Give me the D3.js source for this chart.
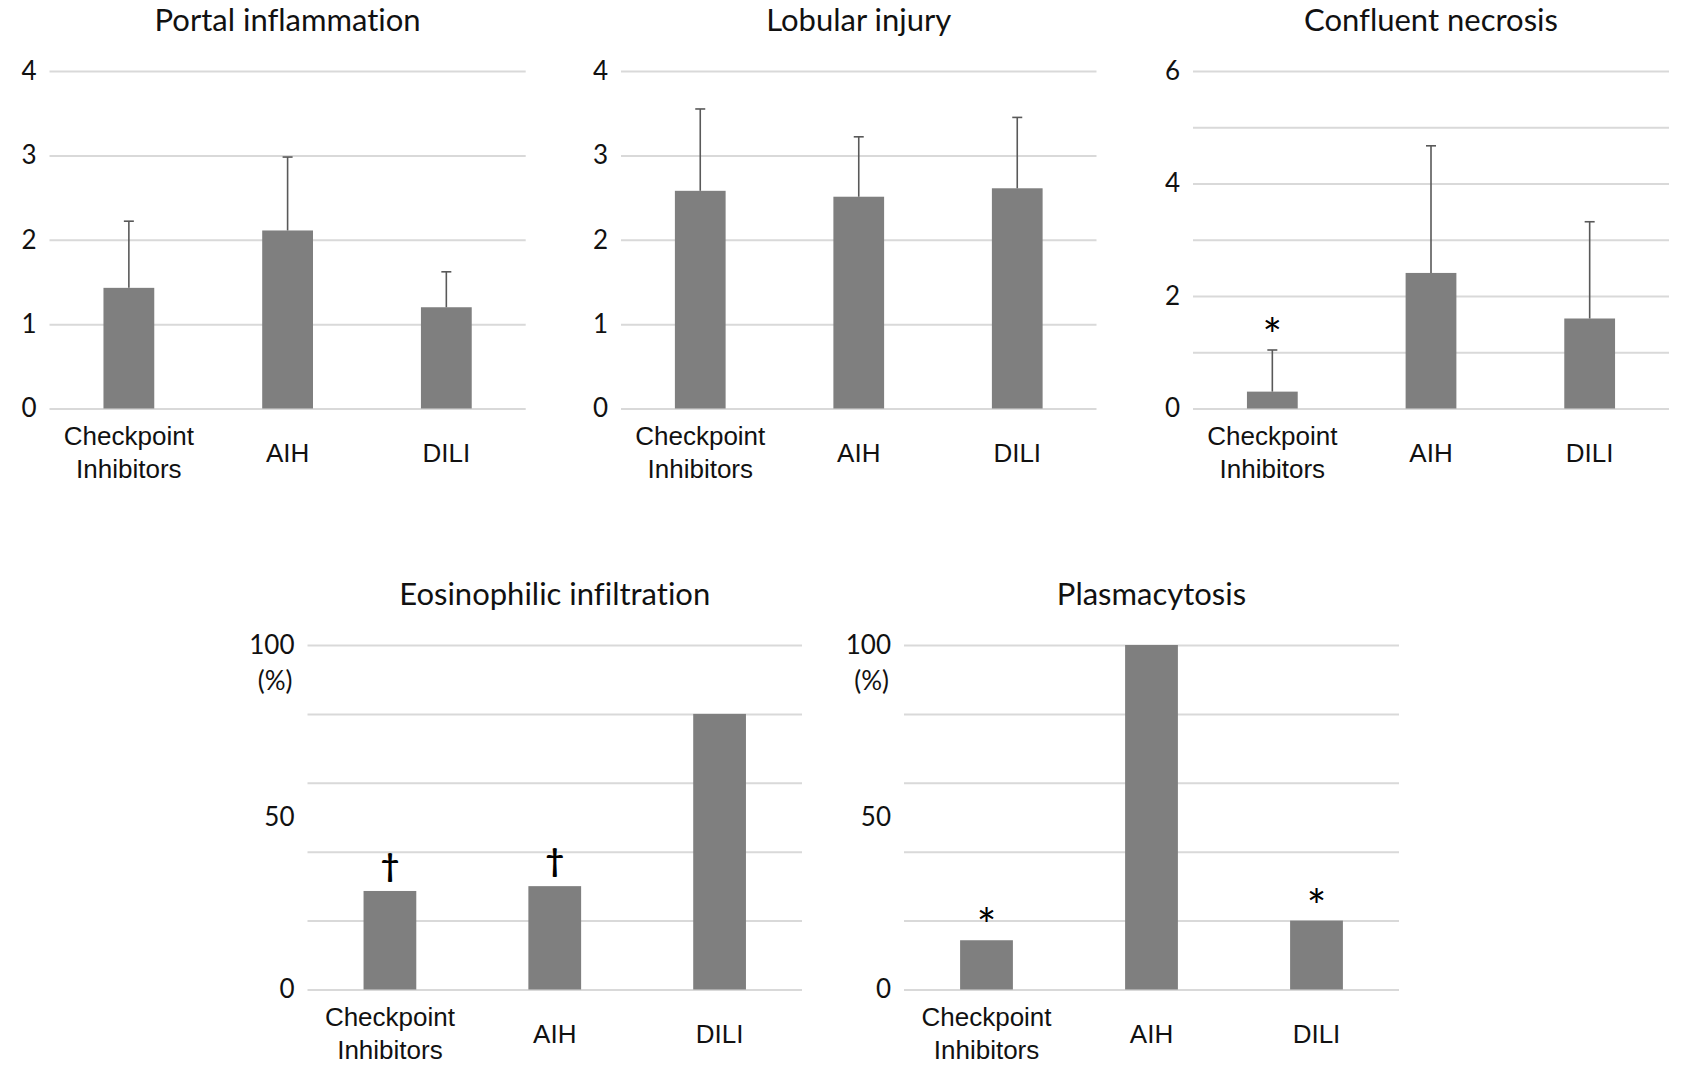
<!DOCTYPE html>
<html>
<head>
<meta charset="utf-8">
<script src="https://cdn.jsdelivr.net/npm/d3@7"></script>
<style>
  html, body { margin: 0; padding: 0; background: #fff; }
  svg { display: block; font-family: Lato, "Open Sans", sans-serif; }
  svg text { font-variant-ligatures: none; font-feature-settings: "liga" 0, "dlig" 0; }
</style>
</head>
<body>
<svg id="chart" width="1686" height="1066"></svg>
<script>
// Groups compared in every panel
const categories = ["Checkpoint Inhibitors", "AIH", "DILI"];
const categoryLines = [["Checkpoint", "Inhibitors"], ["AIH"], ["DILI"]];

// Histological scores: mean and standard deviation
const portalMean = [1.43, 2.11, 1.20];
const portalSD = [0.79, 0.87, 0.42];
const lobularMean = [2.58, 2.51, 2.61];
const lobularSD = [0.97, 0.71, 0.84];
const confluentMean = [0.30, 2.41, 1.60];
const confluentSD = [0.74, 2.26, 1.72];

// Prevalence (%)
const eosinophilPct = [28.6, 30, 80];
const plasmaPct = [14.3, 100, 20];

// Significance marks above bars
const confluentMarks = ["*", "", ""];
const eosinophilMarks = ["\u2020", "\u2020", ""];
const plasmaMarks = ["*", "", "*"];

// Axis ticks
const scoreTicks4 = [0, 1, 2, 3, 4];
const necrosisGrid = [0, 1, 2, 3, 4, 5, 6];
const necrosisLabels = [0, 2, 4, 6];
const pctGrid = [0, 20, 40, 60, 80, 100];
const pctLabels = [0, 50, 100];

const svg = d3.select("#chart");
svg.append("rect").attr("width", 1686).attr("height", 1066).attr("fill", "#fff");

const panels = [
  { title: "Portal inflammation", x0: 49.5, x1: 525.7, y0: 71, y1: 408.5,
    max: 4, values: portalMean, sd: portalSD, grid: scoreTicks4, labels: scoreTicks4, marks: null, unit: false },
  { title: "Lobular injury", x0: 621, x1: 1096.5, y0: 71, y1: 408.5,
    max: 4, values: lobularMean, sd: lobularSD, grid: scoreTicks4, labels: scoreTicks4, marks: null, unit: false },
  { title: "Confluent necrosis", x0: 1193, x1: 1669, y0: 71, y1: 408.5,
    max: 6, values: confluentMean, sd: confluentSD, grid: necrosisGrid, labels: necrosisLabels, marks: confluentMarks, unit: false },
  { title: "Eosinophilic infiltration", x0: 307.5, x1: 802, y0: 645, y1: 989.5,
    max: 100, values: eosinophilPct, sd: null, grid: pctGrid, labels: pctLabels, marks: eosinophilMarks, unit: true },
  { title: "Plasmacytosis", x0: 904, x1: 1399, y0: 645, y1: 989.5,
    max: 100, values: plasmaPct, sd: null, grid: pctGrid, labels: pctLabels, marks: plasmaMarks, unit: true }
];

const barColor = "#7f7f7f";
const gridColor = "#d9d9d9";
const textColor = "#111";

panels.forEach(p => {
  const g = svg.append("g");
  const x = d3.scaleBand().domain(categories).range([p.x0, p.x1])
    .paddingInner(0.68).paddingOuter(0.34);
  const y = d3.scaleLinear().domain([0, p.max]).range([p.y1, p.y0]);

  // horizontal gridlines
  const grid = g.append("g").attr("transform", `translate(${p.x0},0)`)
    .call(d3.axisLeft(y).tickValues(p.grid).tickSize(-(p.x1 - p.x0)).tickFormat(""));
  grid.select(".domain").remove();
  grid.selectAll("line").attr("stroke", gridColor).attr("stroke-width", 2);

  // value labels on the left
  const yAxis = g.append("g").attr("transform", `translate(${p.x0},0)`)
    .call(d3.axisLeft(y).tickValues(p.labels).tickSize(0).tickPadding(13).tickFormat(d3.format("d")));
  yAxis.select(".domain").remove();
  yAxis.selectAll("text").attr("font-size", 26).attr("fill", textColor)
    .attr("font-family", "Lato, sans-serif");

  if (p.unit) {
    g.append("text").attr("x", p.x0 - 15).attr("y", y(p.max) + 45)
      .attr("text-anchor", "end").attr("font-size", 26).attr("fill", textColor)
      .text("(%)");
  }

  // bars
  g.selectAll("rect.bar").data(categories).join("rect").attr("class", "bar")
    .attr("x", d => x(d)).attr("width", x.bandwidth())
    .attr("y", (d, i) => y(p.values[i]))
    .attr("height", (d, i) => y(0) - y(p.values[i]))
    .attr("fill", barColor);

  // upper error bars
  if (p.sd) {
    const eb = g.selectAll("g.err").data(categories).join("g").attr("class", "err");
    eb.append("line")
      .attr("x1", d => x(d) + x.bandwidth() / 2).attr("x2", d => x(d) + x.bandwidth() / 2)
      .attr("y1", (d, i) => y(p.values[i]))
      .attr("y2", (d, i) => y(p.values[i] + p.sd[i]))
      .attr("stroke", "#595959").attr("stroke-width", 1.6);
    eb.append("line")
      .attr("x1", d => x(d) + x.bandwidth() / 2 - 5).attr("x2", d => x(d) + x.bandwidth() / 2 + 5)
      .attr("y1", (d, i) => y(p.values[i] + p.sd[i]))
      .attr("y2", (d, i) => y(p.values[i] + p.sd[i]))
      .attr("stroke", "#595959").attr("stroke-width", 1.6);
  }

  // significance marks
  if (p.marks) {
    g.selectAll("text.mark").data(categories).join("text").attr("class", "mark")
      .attr("x", d => x(d) + x.bandwidth() / 2)
      .attr("y", (d, i) => {
        const top = p.sd ? y(p.values[i] + p.sd[i]) : y(p.values[i]);
        return p.marks[i] === "*" ? top + 2 : top - 14;
      })
      .attr("text-anchor", "middle")
      .attr("font-size", (d, i) => p.marks[i] === "*" ? 46 : 32)
      .attr("font-weight", (d, i) => p.marks[i] === "*" ? 400 : 700)
      .attr("fill", "#000")
      .text((d, i) => p.marks[i]);
  }

  // category labels
  const xAxis = g.append("g").attr("transform", `translate(0,${p.y1})`)
    .call(d3.axisBottom(x).tickSize(0).tickFormat(""));
  xAxis.select(".domain").remove();
  xAxis.selectAll(".tick").each(function (d) {
    const lines = categoryLines[categories.indexOf(d)];
    const t = d3.select(this).append("text")
      .attr("text-anchor", "middle").attr("fill", textColor)
      .attr("font-size", 26)
      .attr("y", lines.length === 1 ? 53 : 36);
    lines.forEach((ln, k) => t.append("tspan").attr("x", 0).attr("dy", k === 0 ? 0 : 33).text(ln));
  });

  // panel title
  g.append("text").attr("x", (p.x0 + p.x1) / 2).attr("y", p.y0 - 40)
    .attr("text-anchor", "middle").attr("font-size", 31).attr("fill", textColor)
    .text(p.title);
});
</script>
</body>
</html>
